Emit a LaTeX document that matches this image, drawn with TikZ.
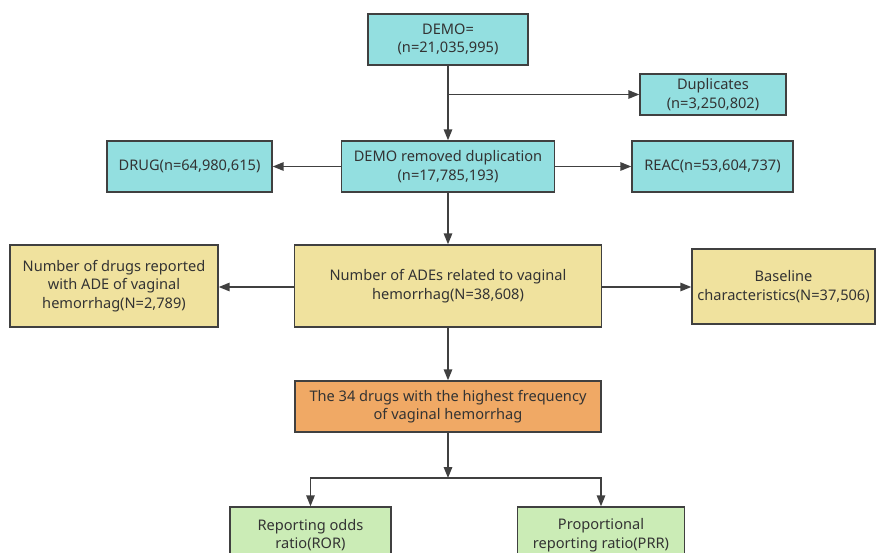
\documentclass[tikz,border=0pt]{standalone}
\usepackage{fontspec}
\setmainfont{Noto Sans}
\usetikzlibrary{arrows.meta}
\definecolor{demoblue}{RGB}{147,223,224}
\definecolor{adeyellow}{RGB}{240,226,158}
\definecolor{toporange}{RGB}{240,169,101}
\definecolor{testgreen}{RGB}{203,236,182}
\definecolor{edgegray}{RGB}{64,64,64}
\tikzset{
  box/.style={draw=edgegray,line width=1.4pt,align=center,inner sep=0pt,
    text=black!80,font=\fontsize{14.6}{18.5}\selectfont},
  arr/.style={draw=edgegray,line width=1.5pt,-{Triangle[width=8.5pt,length=11pt]}}
}
\begin{document}
\begin{tikzpicture}[x=1pt,y=-1pt]
\useasboundingbox (0,0) rectangle (876,552);
\clip (0,0) rectangle (876,552);
% database steps
\node[box,fill=demoblue,minimum width=160,minimum height=51] (demo)
  at (448,39.5) {DEMO=\\(n=21,035,995)};
\node[box,fill=demoblue,minimum width=146,minimum height=41] (dup)
  at (713,94.5) {Duplicates\\(n=3,250,802)};
\node[box,fill=demoblue,minimum width=213,minimum height=51] (dedup)
  at (448,166.5) {DEMO removed duplication\\(n=17,785,193)};
\node[box,fill=demoblue,minimum width=165,minimum height=51] (drug)
  at (189.5,166.5) {DRUG(n=64,980,615)};
\node[box,fill=demoblue,minimum width=161,minimum height=51] (reac)
  at (712.5,166.5) {REAC(n=53,604,737)};
% vaginal hemorrhag cases
\node[box,fill=adeyellow,minimum width=307,minimum height=82] (ades)
  at (448,286) {Number of ADEs related to vaginal\\hemorrhag(N=38,608)};
\node[box,fill=adeyellow,minimum width=208,minimum height=82] (ndrug)
  at (114,286) {Number of drugs reported\\with ADE of vaginal\\hemorrhag(N=2,789)};
\node[box,fill=adeyellow,minimum width=183,minimum height=75] (base)
  at (783.5,286.5) {Baseline\\characteristics(N=37,506)};
\node[box,fill=toporange,minimum width=306,minimum height=51] (top34)
  at (448,406.5) {The 34 drugs with the highest frequency\\of vaginal hemorrhag};
% signal detection
\node[box,fill=testgreen,minimum width=161,minimum height=56] (ror)
  at (310.5,535) {Reporting odds\\ratio(ROR)};
\node[box,fill=testgreen,minimum width=167,minimum height=56] (prr)
  at (601,535) {Proportional\\reporting ratio(PRR)};
\coordinate (split) at (448,478);
% connectors
\draw[arr] (demo) -- (dedup);
\draw[arr] (demo.south |- dup.west) -- (dup.west);
\draw[arr] (dedup) -- (drug);
\draw[arr] (dedup) -- (reac);
\draw[arr] (dedup) -- (ades);
\draw[arr] (ades.west |- 0,287) -- (ndrug.east |- 0,287);
\draw[arr] (ades.east |- 0,287) -- (base.west |- 0,287);
\draw[arr] (ades) -- (top34);
\draw[arr] (top34) -- (split);
\draw[arr] (split) -| (ror);
\draw[arr] (split) -| (prr);
\end{tikzpicture}
\end{document}
